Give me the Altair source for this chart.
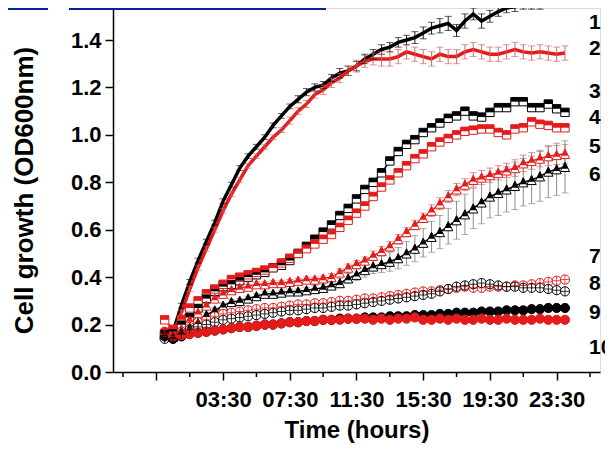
import altair as alt
import pandas as pd

# ---------------- data ----------------
TIME_H = [0.0, 0.5, 1.0, 1.5, 2.0, 2.5, 3.0, 3.5, 4.0, 4.5, 5.0, 5.5, 6.0, 6.5, 7.0, 7.5,
          8.0, 8.5, 9.0, 9.5, 10.0, 10.5, 11.0, 11.5, 12.0, 12.5, 13.0, 13.5, 14.0, 14.5,
          15.0, 15.5, 16.0, 16.5, 17.0, 17.5, 18.0, 18.5, 19.0, 19.5, 20.0, 20.5, 21.0,
          21.5, 22.0, 22.5, 23.0, 23.5, 24.0]

S1 = [0.16, 0.17, 0.28, 0.38, 0.47, 0.55, 0.63, 0.72, 0.79, 0.86,
      0.91, 0.95, 0.99, 1.04, 1.08, 1.12, 1.15, 1.18, 1.20, 1.21,
      1.24, 1.26, 1.27, 1.29, 1.32, 1.34, 1.36, 1.37, 1.39, 1.40,
      1.41, 1.43, 1.45, 1.46, 1.47, 1.44, 1.48, 1.51, 1.48, 1.50,
      1.52, 1.535, 1.54, 1.55, 1.55, 1.55, 1.56, 1.57, 1.56]
S2 = [0.17, 0.16, 0.25, 0.35, 0.44, 0.52, 0.60, 0.68, 0.75, 0.81,
      0.87, 0.91, 0.95, 0.99, 1.02, 1.06, 1.10, 1.13, 1.17, 1.19,
      1.22, 1.24, 1.27, 1.29, 1.31, 1.32, 1.32, 1.32, 1.33, 1.35,
      1.34, 1.33, 1.32, 1.34, 1.33, 1.33, 1.35, 1.36, 1.35, 1.34,
      1.34, 1.35, 1.36, 1.35, 1.345, 1.35, 1.345, 1.34, 1.345]
S3 = [0.16, 0.17, 0.20, 0.23, 0.27, 0.31, 0.34, 0.36, 0.37, 0.385,
      0.40, 0.41, 0.42, 0.44, 0.45, 0.47, 0.50, 0.53, 0.56, 0.59,
      0.62, 0.66, 0.69, 0.73, 0.77, 0.80, 0.84, 0.89, 0.93, 0.96,
      0.98, 1.01, 1.03, 1.05, 1.07, 1.08, 1.10, 1.08, 1.075, 1.095,
      1.115, 1.115, 1.14, 1.14, 1.115, 1.115, 1.13, 1.11, 1.095]
S4 = [0.22, 0.18, 0.22, 0.27, 0.30, 0.33, 0.35, 0.37, 0.39, 0.40,
      0.41, 0.42, 0.43, 0.44, 0.46, 0.48, 0.50, 0.52, 0.54, 0.56,
      0.58, 0.61, 0.64, 0.67, 0.70, 0.74, 0.78, 0.81, 0.84, 0.87,
      0.90, 0.92, 0.95, 0.97, 0.985, 1.0, 1.015, 1.02, 1.025, 1.025,
      1.01, 1.0, 1.025, 1.03, 1.055, 1.045, 1.04, 1.03, 1.03]
S5 = [0.16, 0.15, 0.18, 0.22, 0.25, 0.28, 0.31, 0.33, 0.345, 0.355,
      0.36, 0.37, 0.37, 0.375, 0.375, 0.38, 0.385, 0.39, 0.39, 0.395,
      0.40, 0.42, 0.44, 0.455, 0.47, 0.49, 0.51, 0.53, 0.56, 0.59,
      0.62, 0.65, 0.68, 0.71, 0.74, 0.77, 0.79, 0.81, 0.82, 0.83,
      0.84, 0.85, 0.86, 0.88, 0.89, 0.90, 0.91, 0.915, 0.92]
S6 = [0.16, 0.15, 0.17, 0.19, 0.21, 0.24, 0.26, 0.28, 0.295, 0.30,
      0.31, 0.32, 0.33, 0.33, 0.335, 0.34, 0.34, 0.345, 0.35, 0.355,
      0.365, 0.375, 0.395, 0.41, 0.43, 0.445, 0.455, 0.465, 0.48, 0.50,
      0.52, 0.545, 0.57, 0.59, 0.615, 0.64, 0.665, 0.69, 0.715, 0.74,
      0.755, 0.77, 0.785, 0.80, 0.81, 0.825, 0.845, 0.855, 0.865]
S7 = [0.16, 0.15, 0.17, 0.19, 0.21, 0.22, 0.235, 0.245, 0.25, 0.255,
      0.26, 0.265, 0.27, 0.27, 0.275, 0.28, 0.285, 0.285, 0.29, 0.29,
      0.295, 0.30, 0.30, 0.305, 0.31, 0.31, 0.315, 0.32, 0.325, 0.33,
      0.335, 0.34, 0.34, 0.345, 0.35, 0.355, 0.36, 0.355, 0.355, 0.36,
      0.36, 0.36, 0.365, 0.365, 0.37, 0.375, 0.38, 0.385, 0.39]
S8 = [0.14, 0.14, 0.16, 0.18, 0.19, 0.20, 0.21, 0.22, 0.225, 0.23,
      0.235, 0.24, 0.245, 0.25, 0.255, 0.26, 0.26, 0.265, 0.27, 0.27,
      0.275, 0.28, 0.28, 0.285, 0.29, 0.295, 0.30, 0.305, 0.31, 0.315,
      0.32, 0.325, 0.33, 0.34, 0.35, 0.36, 0.365, 0.37, 0.375, 0.37,
      0.365, 0.36, 0.36, 0.355, 0.355, 0.355, 0.35, 0.345, 0.34]
S9 = [0.15, 0.14, 0.15, 0.16, 0.165, 0.17, 0.175, 0.18, 0.185, 0.19,
      0.19, 0.195, 0.20, 0.20, 0.205, 0.21, 0.21, 0.215, 0.215, 0.22,
      0.22, 0.225, 0.225, 0.225, 0.23, 0.23, 0.23, 0.235, 0.235, 0.235,
      0.24, 0.24, 0.24, 0.245, 0.245, 0.25, 0.25, 0.25, 0.255, 0.255,
      0.255, 0.26, 0.26, 0.26, 0.265, 0.265, 0.27, 0.27, 0.27]
S10 = [0.17, 0.15, 0.155, 0.16, 0.165, 0.17, 0.175, 0.18, 0.185, 0.19,
       0.19, 0.195, 0.20, 0.20, 0.205, 0.21, 0.21, 0.215, 0.215, 0.22,
       0.22, 0.22, 0.225, 0.225, 0.225, 0.22, 0.225, 0.22, 0.225, 0.225,
       0.23, 0.22, 0.22, 0.225, 0.22, 0.225, 0.22, 0.22, 0.225, 0.22,
       0.22, 0.225, 0.22, 0.22, 0.22, 0.225, 0.22, 0.22, 0.22]

E1 = [0.01, 0.01, 0.01, 0.01, 0.01, 0.01, 0.01, 0.01, 0.01, 0.01,
      0.01, 0.01, 0.01, 0.01, 0.01, 0.01, 0.015, 0.015, 0.015, 0.015,
      0.015, 0.02, 0.02, 0.02, 0.02, 0.02, 0.02, 0.02, 0.02, 0.02,
      0.025, 0.025, 0.025, 0.03, 0.03, 0.025, 0.03, 0.025, 0.03, 0.025,
      0.02, 0.02, 0.02, 0.02, 0.02, 0.02, 0.015, 0.015, 0.015]
E2 = [0.01, 0.01, 0.01, 0.01, 0.01, 0.01, 0.01, 0.01, 0.01, 0.01,
      0.01, 0.01, 0.01, 0.01, 0.01, 0.015, 0.015, 0.015, 0.015, 0.02,
      0.02, 0.02, 0.02, 0.025, 0.025, 0.025, 0.03, 0.03, 0.03, 0.03,
      0.03, 0.03, 0.03, 0.03, 0.03, 0.03, 0.03, 0.03, 0.03, 0.03,
      0.03, 0.03, 0.03, 0.03, 0.03, 0.03, 0.03, 0.03, 0.03]
E5 = [0.01, 0.01, 0.01, 0.01, 0.01, 0.01, 0.01, 0.01, 0.01, 0.01,
      0.01, 0.01, 0.01, 0.01, 0.01, 0.01, 0.01, 0.01, 0.01, 0.01,
      0.015, 0.015, 0.015, 0.015, 0.015, 0.02, 0.02, 0.02, 0.02, 0.02,
      0.02, 0.02, 0.025, 0.025, 0.025, 0.025, 0.025, 0.03, 0.03, 0.03,
      0.03, 0.03, 0.035, 0.035, 0.035, 0.035, 0.04, 0.04, 0.04]
E6 = [0.01, 0.01, 0.01, 0.01, 0.01, 0.01, 0.01, 0.01, 0.01, 0.01,
      0.01, 0.01, 0.01, 0.01, 0.01, 0.01, 0.01, 0.01, 0.015, 0.015,
      0.015, 0.02, 0.02, 0.025, 0.03, 0.03, 0.035, 0.04, 0.045, 0.05,
      0.055, 0.06, 0.065, 0.07, 0.075, 0.08, 0.085, 0.085, 0.09, 0.09,
      0.095, 0.095, 0.1, 0.1, 0.1, 0.105, 0.11, 0.11, 0.11]

SERIES = ["1", "2", "3", "4", "5", "6", "7", "8", "9", "10"]
VALUES = [S1, S2, S3, S4, S5, S6, S7, S8, S9, S10]
ERRORS = [E1, E2, None, None, E5, E6, None, None, None, None]
LABEL_LEVEL = [1.47, 1.36, 1.18, 1.07, 0.95, 0.83, 0.485, 0.37, 0.25, 0.10]

X_MAJOR = [-0.5, 3.5, 7.5, 11.5, 15.5, 19.5, 23.5]
X_MINOR = [-2.5, 1.5, 5.5, 9.5, 13.5, 17.5, 21.5, 25.5]
Y_TICKS = [0.0, 0.1, 0.2, 0.3, 0.4, 0.5, 0.6, 0.7, 0.8, 0.9, 1.0, 1.1, 1.2, 1.3, 1.4, 1.5]

# ---------------- styles ----------------
RED = "#e41b1b"
BLK = "#000000"
SQ_TOP = "M-1,-1L1,-1L1,0L-1,0Z"
TRI = "M0,-1L1,1L-1,1Z"
TRI_TOP = "M0,-1L0.7,0.4L-0.7,0.4Z"
CROSS = "M-1,0L1,0M0,-1L0,1"

LINE_COLOR = [BLK, RED, BLK, RED, RED, BLK, RED, BLK, BLK, RED]
LINE_WIDTH = [3.5, 3.5, 1.5, 1.5, 1.5, 1.5, 1.2, 1.2, 1.5, 1.5]
MARK_SHAPE = ["", "", "square", "square", TRI, TRI, "circle", "circle", "circle", "circle"]
MARK_FILL = ["", "", "white", "white", "white", "white", "white", "white", BLK, RED]
MARK_SIZE = [0, 0, 70, 70, 85, 85, 85, 85, 85, 85]
OVERLAY = ["", "", SQ_TOP, SQ_TOP, TRI_TOP, TRI_TOP, "", "", "", ""]
CROSSED = ["", "", "", "", "", "", CROSS, CROSS, "", ""]
ERR_COLOR = [BLK, "#d45a5a", BLK, BLK, "#d45a5a", "#808080", BLK, BLK, BLK, BLK]

rows = []
for i, sid in enumerate(SERIES):
    errs = ERRORS[i]
    for j, t in enumerate(TIME_H):
        v = VALUES[i][j]
        e = errs[j] if errs is not None else 0.0
        rows.append({
            "series": sid, "order": i, "t": t, "v": v, "e": e,
            "lo": v - e, "hi": v + e,
            "lcolor": LINE_COLOR[i], "lwidth": LINE_WIDTH[i],
            "shape": MARK_SHAPE[i], "fill": MARK_FILL[i], "size": MARK_SIZE[i],
            "overlay": OVERLAY[i], "cross": CROSSED[i], "ecolor": ERR_COLOR[i],
        })
df = pd.DataFrame(rows)

lab = pd.DataFrame({"series": SERIES, "level": LABEL_LEVEL,
                    "t": [TIME_H[-1]] * len(SERIES)})
minor_df = pd.DataFrame({"t": X_MINOR})

FONT = "Liberation Sans"

x_scale = alt.Scale(domain=[-3.1, 26.1], nice=False, zero=False)
y_scale = alt.Scale(domain=[0, 1.535], nice=False, zero=True)

x_axis = alt.Axis(
    values=X_MAJOR,
    labelExpr="datum.value > 0 ? ((datum.value < 9.5 ? '0' : '') + floor(datum.value) + ':30') : ''",
    tickSize=8,
    tickColor=BLK, tickWidth=1.5, domainColor=BLK, domainWidth=1.5,
    labelFont=FONT, labelFontSize=22, labelFontWeight="bold", labelColor=BLK,
    labelPadding=9, labelOverlap=False, labelFlush=False,
    title="Time (hours)", titleFont=FONT, titleFontSize=24, titleFontWeight="bold",
    titleColor=BLK, titlePadding=8, grid=False,
)
y_axis = alt.Axis(
    values=Y_TICKS,
    labelExpr="round(datum.value * 10) % 2 == 0 ? format(datum.value, '.1f') : ''",
    tickSize={"condition": {"test": "round(datum.value * 10) % 2 == 0", "value": 8}, "value": 5},
    tickColor=BLK, tickWidth=1.5, domainColor=BLK, domainWidth=1.5,
    labelFont=FONT, labelFontSize=22, labelFontWeight="bold", labelColor=BLK,
    labelPadding=4, labelOverlap=False, labelFlush=False,
    title="Cell growth (OD600nm)", titleFont=FONT, titleFontSize=26,
    titleFontWeight="bold", titleColor=BLK, titlePadding=33, grid=False,
)

base = alt.Chart(df)
X = alt.X("t:Q", scale=x_scale, axis=x_axis)
Y = alt.Y("v:Q", scale=y_scale, axis=y_axis)

lines = base.mark_line(clip=False).encode(
    x=X, y=Y, detail="series:N",
    color=alt.Color("lcolor:N", scale=None),
    strokeWidth=alt.StrokeWidth("lwidth:Q", scale=None),
    order="t:Q",
)

errdf = base.transform_filter("datum.e > 0")
err_rules = errdf.mark_rule(strokeWidth=0.9).encode(
    x="t:Q", y="lo:Q", y2="hi:Q", color=alt.Color("ecolor:N", scale=None))
cap_lo = errdf.mark_tick(orient="horizontal", size=7, thickness=0.9).encode(
    x="t:Q", y="lo:Q", color=alt.Color("ecolor:N", scale=None))
cap_hi = errdf.mark_tick(orient="horizontal", size=7, thickness=0.9).encode(
    x="t:Q", y="hi:Q", color=alt.Color("ecolor:N", scale=None))

markers = base.transform_filter("datum.size > 0").mark_point(
    filled=False, strokeWidth=1.0, opacity=1).encode(
    x="t:Q", y="v:Q",
    shape=alt.Shape("shape:N", scale=None),
    fill=alt.Fill("fill:N", scale=None),
    stroke=alt.Stroke("lcolor:N", scale=None),
    size=alt.Size("size:Q", scale=None),
)
overlay = base.transform_filter("datum.overlay != ''").mark_point(
    filled=True, opacity=1, strokeWidth=0).encode(
    x="t:Q", y="v:Q",
    shape=alt.Shape("overlay:N", scale=None),
    fill=alt.Fill("lcolor:N", scale=None),
    size=alt.Size("size:Q", scale=None),
)
crosses = base.transform_filter("datum.cross != ''").mark_point(
    filled=False, opacity=1, strokeWidth=0.8).encode(
    x="t:Q", y="v:Q",
    shape=alt.Shape("cross:N", scale=None),
    stroke=alt.Stroke("lcolor:N", scale=None),
    size=alt.Size("size:Q", scale=None),
)

# minor ticks of the time axis, placed through the x scale
minor_ticks = alt.Chart(minor_df).mark_rule(color=BLK, strokeWidth=1.5).encode(
    x="t:Q", y=alt.value(364), y2=alt.value(369))

labels = alt.Chart(lab).mark_text(
    align="left", baseline="middle", dx=24, font=FONT, fontSize=21,
    fontWeight="bold", color=BLK, clip=False).encode(
    x="t:Q", y="level:Q", text="series:N")

banner = alt.Chart(pd.DataFrame({"k": [0]})).mark_rect(color="#0022a0").encode(
    x=alt.value(-105), x2=alt.value(-65), y=alt.value(0), y2=alt.value(2))
banner2 = alt.Chart(pd.DataFrame({"k": [0]})).mark_rect(color="#0022a0").encode(
    x=alt.value(-44), x2=alt.value(213), y=alt.value(0), y2=alt.value(2))

chart = alt.layer(
    lines, err_rules, cap_lo, cap_hi, markers, overlay, crosses, minor_ticks,
    labels, banner, banner2
).properties(
    width=487, height=364,
    autosize=alt.AutoSizeParams(type="none"),
    padding={"left": 105, "top": 0, "right": 5, "bottom": 78},
).configure_view(stroke=None).configure(background="white")

chart.save("out.html", embed_options={"renderer": "svg", "actions": False})
